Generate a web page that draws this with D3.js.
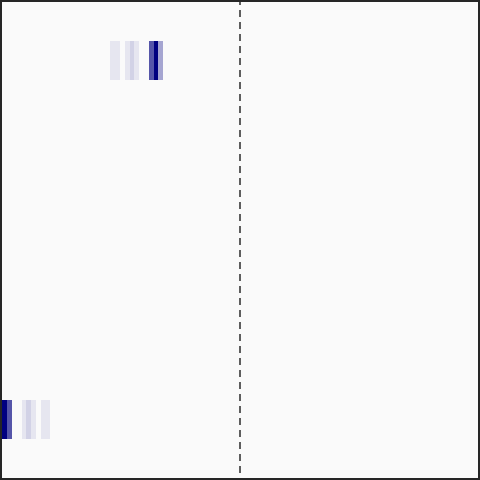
<!DOCTYPE html>
<html>
<head>
<meta charset="utf-8">
<script src="https://cdn.jsdelivr.net/npm/d3@7"></script>
<style>
  html, body { margin: 0; padding: 0; background: #fafafa; }
  svg { display: block; }
</style>
</head>
<body>
<svg id="chart" width="480" height="480"></svg>
<script>
// Data: cell start positions (column units), intensities (0..1), row index
const topRowStarts = [23, 24, 26, 27, 28, 31, 32, 33];
const topRowValues = [0.08, 0.08, 0.08, 0.16, 0.08, 0.66, 1.0, 0.34];
const bottomRowStarts = [0.5, 1.5, 4.5, 5.5, 6.5, 8.5, 9.5];
const bottomRowValues = [1.0, 0.66, 0.08, 0.16, 0.08, 0.08, 0.08];
const rowIds = [1, 10];
const markerX = [50];

const W = 480, H = 480;
const svg = d3.select("#chart");

const rowStep = 359 / 9;
const x = d3.scaleLinear().domain([0, 100]).range([0, W]);
const y = d3.scaleLinear().domain([0, 12]).range([41 - rowStep, 41 + 11 * rowStep]);
const color = d3.scaleLinear().domain([0, 1]).range(["#fafafa", "#000080"]);

svg.append("rect").attr("x", 0).attr("y", 0).attr("width", W).attr("height", H).attr("fill", "#fafafa");

const cells = [];
topRowStarts.forEach((s, i) => cells.push({ row: rowIds[0], start: s, v: topRowValues[i] }));
bottomRowStarts.forEach((s, i) => cells.push({ row: rowIds[1], start: s, v: bottomRowValues[i] }));

svg.append("g").selectAll("rect").data(cells).join("rect")
  .attr("x", d => x(d.start))
  .attr("width", d => x(d.start + 1) - x(d.start))
  .attr("y", d => Math.round(y(d.row)))
  .attr("height", 39)
  .attr("fill", d => color(d.v))
  .attr("shape-rendering", "crispEdges");

svg.append("g").selectAll("line").data(markerX).join("line")
  .attr("x1", d => x(d)).attr("x2", d => x(d))
  .attr("y1", 0).attr("y2", H)
  .attr("stroke", "#2b2b2b")
  .attr("stroke-width", 1.5)
  .attr("stroke-dasharray", "7,5")
  .attr("stroke-dashoffset", 2);

svg.append("rect")
  .attr("x", 1).attr("y", 1).attr("width", W - 2).attr("height", H - 2)
  .attr("fill", "none").attr("stroke", "#262626").attr("stroke-width", 2);
</script>
</body>
</html>
